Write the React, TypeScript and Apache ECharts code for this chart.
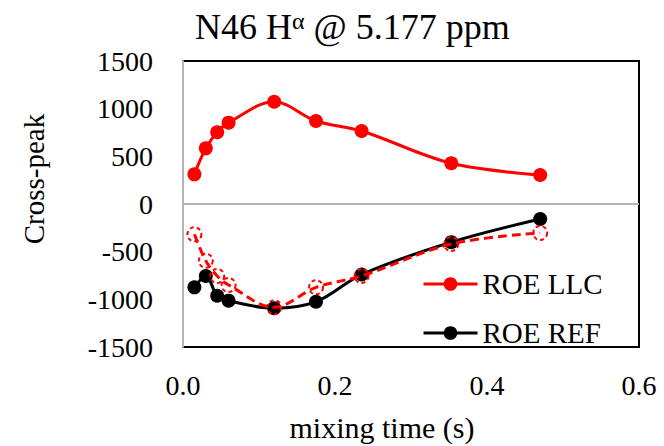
import React, { useEffect, useRef } from "react";
import * as echarts from "echarts";

const times = [0.015, 0.03, 0.045, 0.06, 0.12, 0.175, 0.235, 0.353, 0.47];
const roeLLC = [311, 584, 752, 853, 1073, 871, 766, 427, 304];
const roeLLCneg = [-318, -595, -755, -850, -1084, -874, -755, -420, -304];
const roeREF = [-874, -755, -962, -1014, -1094, -1025, -740, -400, -157];
const xTicks = { min: 0, max: 0.6, interval: 0.2 };
const yTicks = { min: -1500, max: 1500, interval: 500 };

const FONT = "Liberation Serif";
const GRAY = "#b4b4b4";

const pairs = (ys: number[]) => times.map((t, i) => [t, ys[i]]);

export default function App() {
  const ref = useRef<HTMLDivElement>(null);
  useEffect(() => {
    document.body.style.margin = "0";
    const chart = echarts.init(ref.current!, null, { renderer: "svg" });
    chart.setOption({
      animation: false,
      backgroundColor: "#fff",
      textStyle: { fontFamily: FONT, color: "#000" },
      title: {
        text: "N46 H{a|α} @ 5.177 ppm",
        left: 190,
        top: 4,
        textStyle: {
          fontFamily: FONT,
          fontSize: 36,
          fontWeight: "normal",
          color: "#000",
          rich: {
            a: { fontFamily: FONT, fontSize: 24, verticalAlign: "top", color: "#000" },
          },
        },
      },
      grid: {
        left: 183,
        top: 61,
        right: 25,
        bottom: 99,
        show: true,
        borderColor: "#000",
        borderWidth: 2,
        containLabel: false,
      },
      legend: {
        data: ["ROE LLC", "ROE REF"],
        orient: "vertical",
        left: 417,
        top: 264,
        itemWidth: 54,
        itemHeight: 17,
        itemGap: 19,
        lineStyle: { width: 3 },
        textStyle: { fontFamily: FONT, fontSize: 29, color: "#000", lineHeight: 30 },
      },
      xAxis: {
        type: "value",
        min: xTicks.min,
        max: xTicks.max,
        interval: xTicks.interval,
        axisLine: { show: false, onZero: false },
        axisTick: { show: false },
        splitLine: { show: false },
        axisLabel: {
          fontFamily: FONT,
          fontSize: 28,
          color: "#000",
          margin: 24,
          formatter: (v: number) => v.toFixed(1),
        },
      },
      yAxis: {
        type: "value",
        min: yTicks.min,
        max: yTicks.max,
        interval: yTicks.interval,
        axisLine: { show: true, lineStyle: { color: GRAY, width: 2 } },
        axisTick: { show: false },
        splitLine: { show: false },
        axisLabel: {
          fontFamily: FONT,
          fontSize: 28,
          color: "#000",
          margin: 30,
          formatter: (v: number) => String(v),
        },
      },
      graphic: [
        {
          type: "text",
          x: 382,
          y: 427,
          style: {
            text: "mixing time (s)",
            fontFamily: FONT,
            fontSize: 30,
            fill: "#000",
            align: "center",
            verticalAlign: "middle",
          },
        },
        {
          type: "text",
          x: 34,
          y: 179,
          rotation: Math.PI / 2,
          style: {
            text: "Cross-peak",
            fontFamily: FONT,
            fontSize: 29,
            fill: "#000",
            align: "center",
            verticalAlign: "middle",
          },
        },
      ],
      series: [
        {
          name: "ROE LLC",
          type: "line",
          data: pairs(roeLLC),
          smooth: 0.35,
          symbol: "circle",
          symbolSize: 14,
          lineStyle: { color: "#ff0000", width: 3 },
          itemStyle: { color: "#ff0000" },
          markLine: {
            silent: true,
            symbol: "none",
            label: { show: false },
            lineStyle: { color: GRAY, width: 2, type: "solid" },
            data: [{ yAxis: 0 }],
          },
          z: 3,
        },
        {
          name: "ROE REF",
          type: "line",
          data: pairs(roeREF),
          smooth: 0.35,
          symbol: "circle",
          symbolSize: 14,
          lineStyle: { color: "#000", width: 3 },
          itemStyle: { color: "#000" },
          z: 3,
        },
        {
          name: "ROE LLC (neg)",
          type: "line",
          data: pairs(roeLLCneg),
          smooth: 0.35,
          symbol: "circle",
          symbolSize: 14,
          lineStyle: { color: "#ff0000", width: 3, type: [9, 5] },
          itemStyle: {
            color: "rgba(255,255,255,0)",
            borderColor: "#ff0000",
            borderWidth: 2,
            borderType: [4, 3],
          },
          z: 4,
        },
      ],
    });
    return () => chart.dispose();
  }, []);
  return (
    <div
      ref={ref}
      style={{ position: "fixed", left: 0, top: 0, width: 664, height: 446 }}
    />
  );
}
